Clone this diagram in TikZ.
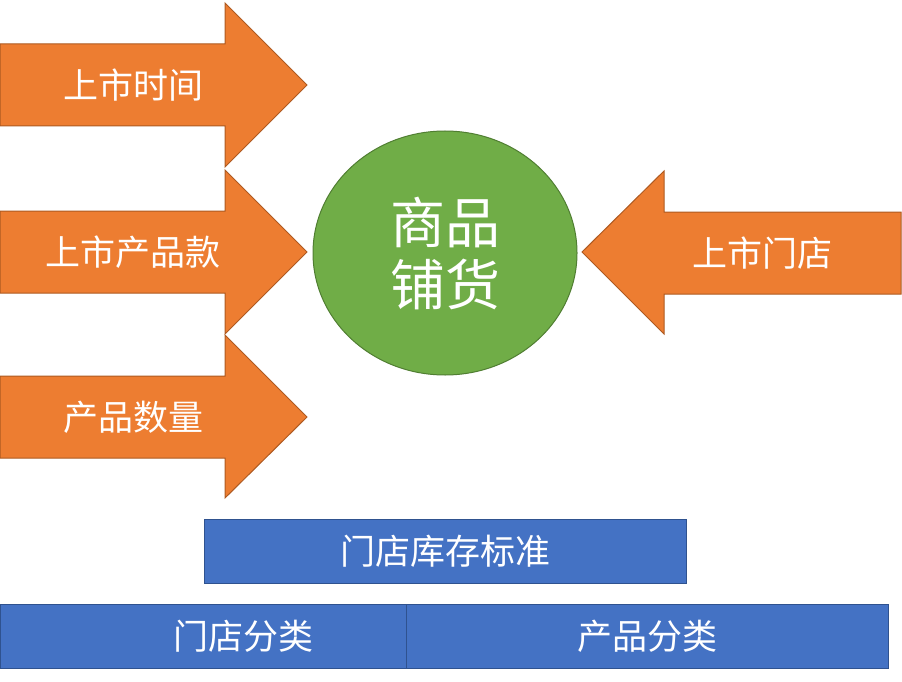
\documentclass[tikz,border=0pt]{standalone}
\usepackage{fontspec}
\setmainfont{Noto Sans CJK SC}
\definecolor{org}{HTML}{ED7D31}
\definecolor{orgd}{HTML}{AE5A21}
\definecolor{grn}{HTML}{70AD47}
\definecolor{grnd}{HTML}{507E32}
\definecolor{blu}{HTML}{4472C4}
\definecolor{blud}{HTML}{2F528F}
\begin{document}
\begin{tikzpicture}[x=1pt,y=-1pt,
 arr/.style={fill=org,draw=orgd,line width=1pt},
 box/.style={fill=blu,draw=blud,line width=1pt},
 lbl/.style={text=white,font=\fontsize{35}{40}\selectfont,inner sep=0pt}]
\useasboundingbox (0,0) rectangle (902,682);
\draw[arr] (0,44) -- (225,44) -- (225,3) -- (307,85) -- (225,167) -- (225,126) -- (0,126) -- cycle;
\node[lbl] (a1) at (133,85) {上市时间};
\draw[arr] (0,211) -- (225,211) -- (225,170) -- (307,252) -- (225,334) -- (225,293) -- (0,293) -- cycle;
\node[lbl] (a2) at (133,252) {上市产品款};
\draw[arr] (0,376) -- (225,376) -- (225,335) -- (307,417) -- (225,498) -- (225,458) -- (0,458) -- cycle;
\node[lbl] (a3) at (133,417) {产品数量};
\draw[arr] (901,212) -- (664,212) -- (664,171) -- (582,252) -- (664,334) -- (664,294) -- (901,294) -- cycle;
\node[lbl] (a4) at (762,253) {上市门店};
\draw[fill=grn,draw=grnd,line width=1pt] (445,253) ellipse [x radius=132,y radius=122];
\node[lbl,font=\fontsize{55}{62}\selectfont,align=center] (c) at (445,253) {商品\\铺货};
\draw[box] (204,519) rectangle (686,583);
\node[lbl] (b1) at (445,551) {门店库存标准};
\draw[box] (0,604) rectangle (406,668);
\node[lbl] (b2) at (243,636) {门店分类};
\draw[box] (406,604) rectangle (888,668);
\node[lbl] (b3) at (647,636) {产品分类};
\end{tikzpicture}
\end{document}
